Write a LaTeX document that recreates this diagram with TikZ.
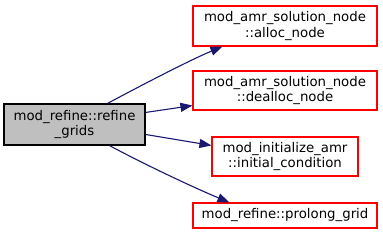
\documentclass[tikz,border=0pt]{standalone}
\usepackage{fontspec}
\setmainfont{DejaVu Sans}
\usetikzlibrary{arrows.meta,calc}
\definecolor{edgeblue}{HTML}{191970}
\definecolor{boxgray}{HTML}{BFBFBF}
\tikzset{
  fn/.style={draw=red, line width=1.1pt, fill=white, inner sep=0pt, align=center,
    font=\fontsize{13.3}{15.5}\selectfont},
  cur/.style={fn, draw=black, fill=boxgray},
  edge/.style={draw=edgeblue, line width=1.1pt, -{Triangle[length=12pt,width=9pt]}}
}
\begin{document}
\begin{tikzpicture}[x=1pt,y=-1pt]
\useasboundingbox (0,0) rectangle (383,234);
\node[cur, minimum width=141pt, minimum height=41pt] (main) at (74.5,124.5) {mod\_refine::refine\\\_grids};
\node[fn, minimum width=184pt, minimum height=40pt] (alloc) at (285,26) {mod\_amr\_solution\_node\\::alloc\_node};
\node[fn, minimum width=184pt, minimum height=39pt] (dealloc) at (285,90.5) {mod\_amr\_solution\_node\\::dealloc\_node};
\node[fn, minimum width=146pt, minimum height=39pt] (init) at (285,156.5) {mod\_initialize\_amr\\::initial\_condition};
\node[fn, minimum width=184pt, minimum height=25pt] (prolong) at (285,215.5) {mod\_refine::prolong\_grid};
\draw[edge] ($(main.north west)+(104,0)$) .. controls (140,86) and (190,60) .. ($(alloc.south west)+(30,0)$);
\draw[edge] ($(main.north east)+(0,9)$) -- ($(dealloc.south west)+(0,-5)$);
\draw[edge] ($(main.north east)+(0,31)$) -- ($(init.north west)+(0,9)$);
\draw[edge] ($(main.south west)+(106,0)$) .. controls (140,162) and (190,186) .. ($(prolong.north west)+(37,0)$);
\end{tikzpicture}
\end{document}
